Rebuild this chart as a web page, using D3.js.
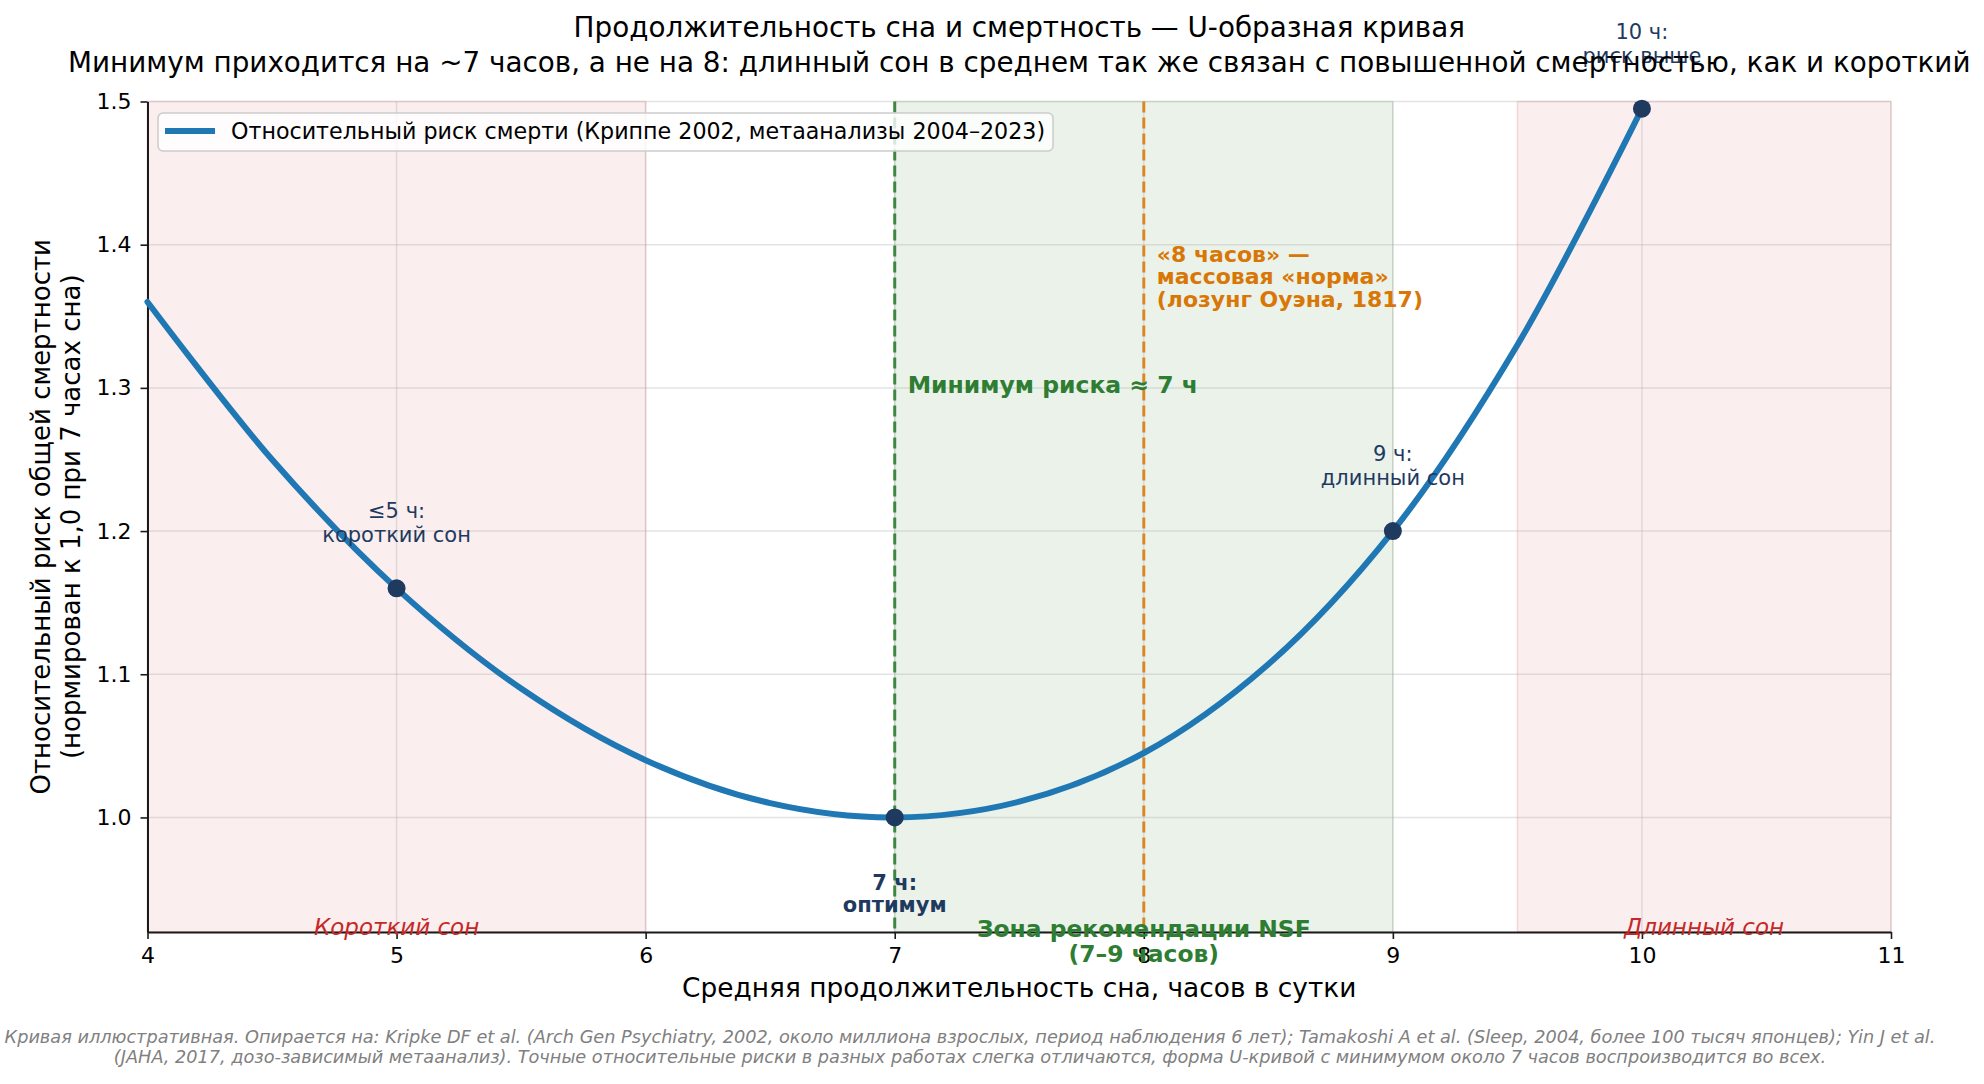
<!DOCTYPE html>
<html>
<head>
<meta charset="utf-8">
<script src="https://cdn.jsdelivr.net/npm/d3@7"></script>
<style>
  body { margin: 0; background: #fff; }
  svg { display: block; font-family: "DejaVu Sans", sans-serif; }
</style>
</head>
<body>
<svg id="chart" width="1984" height="1084"></svg>
<script>
// data
const xTicks = [4, 5, 6, 7, 8, 9, 10, 11];
const yTicks = [1.0, 1.1, 1.2, 1.3, 1.4, 1.5];
const curveHours = [4, 4.5, 5, 5.5, 6, 6.5, 7, 7.5, 8, 8.5, 9, 9.5, 10];
const curveRisk = [1.36, 1.25, 1.16, 1.09, 1.04, 1.01, 1.0, 1.011, 1.045, 1.107, 1.2, 1.33, 1.495];
const keyHours = [5, 7, 9, 10];
const keyRisk = [1.16, 1.0, 1.2, 1.495];
const keyLabels = [["≤5 ч:", "короткий сон"], ["7 ч:", "оптимум"], ["9 ч:", "длинный сон"], ["10 ч:", "риск выше"]];
const shortZone = [4, 6];
const longZone = [9.5, 11];
const nsfZone = [7, 9];
const optimumHour = 7;
const normHour = 8;

const title = "Продолжительность сна и смертность — U-образная кривая";
const subtitle = "Минимум приходится на ~7 часов, а не на 8: длинный сон в среднем так же связан с повышенной смертностью, как и короткий";
const legendText = "Относительный риск смерти (Криппе 2002, метаанализы 2004–2023)";
const footer = [
  "Кривая иллюстративная. Опирается на: Kripke DF et al. (Arch Gen Psychiatry, 2002, около миллиона взрослых, период наблюдения 6 лет); Tamakoshi A et al. (Sleep, 2004, более 100 тысяч японцев); Yin J et al.",
  "(JAHA, 2017, дозо-зависимый метаанализ). Точные относительные риски в разных работах слегка отличаются, форма U-кривой с минимумом около 7 часов воспроизводится во всех."
];

const svg = d3.select("#chart");
const pL = 147.5, pR = 1891, pT = 101.5, pB = 932;

const x = d3.scaleLinear().domain([4, 11]).range([pL, pR]);
const y = d3.scaleLinear().domain([0.92, 1.5]).range([pB, pT]);

const red = "#c62828", green = "#2e7d32", orange = "#d97706", navy = "#1f3a5f", blue = "#1f77b4";

// shaded zones
function zone(z, color, op) {
  svg.append("rect")
    .attr("x", x(z[0])).attr("y", pT)
    .attr("width", x(z[1]) - x(z[0])).attr("height", pB - pT)
    .attr("fill", color).attr("fill-opacity", op)
    .attr("stroke", color).attr("stroke-opacity", 0.15).attr("stroke-width", 1.5);
}
zone(shortZone, red, 0.08);
zone(longZone, red, 0.08);
zone(nsfZone, green, 0.1);

// grid
const grid = svg.append("g").attr("stroke", "#b0b0b0").attr("stroke-opacity", 0.35).attr("stroke-width", 1.5);
grid.selectAll(".gx").data(xTicks).join("line")
  .attr("x1", d => x(d)).attr("x2", d => x(d)).attr("y1", pT).attr("y2", pB);
grid.selectAll(".gy").data(yTicks).join("line")
  .attr("x1", pL).attr("x2", pR).attr("y1", d => y(d)).attr("y2", d => y(d));

// vertical reference lines
svg.append("line")
  .attr("x1", x(optimumHour)).attr("x2", x(optimumHour)).attr("y1", pT).attr("y2", pB)
  .attr("stroke", green).attr("stroke-width", 3).attr("stroke-dasharray", "11,5").attr("stroke-opacity", 0.9);
svg.append("line")
  .attr("x1", x(normHour)).attr("x2", x(normHour)).attr("y1", pT).attr("y2", pB)
  .attr("stroke", orange).attr("stroke-width", 3).attr("stroke-dasharray", "11,5").attr("stroke-opacity", 0.85);

// axes
const xAxis = svg.append("g")
  .attr("transform", `translate(0,${pB})`)
  .call(d3.axisBottom(x).tickValues(xTicks).tickFormat(d3.format("d")).tickSize(7).tickSizeOuter(0).tickPadding(8));
const yAxis = svg.append("g")
  .attr("transform", `translate(${pL},0)`)
  .call(d3.axisLeft(y).tickValues(yTicks).tickFormat(d3.format(".1f")).tickSize(7).tickSizeOuter(0).tickPadding(9));
[xAxis, yAxis].forEach(a => {
  a.select(".domain").attr("stroke", "#1a1a1a").attr("stroke-width", 2);
  a.selectAll(".tick line").attr("stroke", "#1a1a1a").attr("stroke-width", 1.6);
  a.selectAll(".tick text").attr("fill", "#000").style("font-size", "22px").style("font-family", "DejaVu Sans");
});

// curve
const pts = curveHours.map((h, i) => [h, curveRisk[i]]);
svg.append("path")
  .datum(pts)
  .attr("d", d3.line().x(d => x(d[0])).y(d => y(d[1])).curve(d3.curveCatmullRom.alpha(0.5)))
  .attr("fill", "none").attr("stroke", blue).attr("stroke-width", 6).attr("stroke-linecap", "round");

svg.selectAll(".key").data(keyHours).join("circle")
  .attr("cx", d => x(d)).attr("cy", (d, i) => y(keyRisk[i])).attr("r", 9)
  .attr("fill", navy);

// point annotations
keyHours.forEach((h, i) => {
  const px = x(h), py = y(keyRisk[i]);
  const t = svg.append("text").attr("text-anchor", "middle").attr("fill", navy);
  if (h === optimumHour) {
    t.style("font-size", "21px").style("font-weight", "bold");
    t.append("tspan").attr("x", px).attr("y", py + 73).text(keyLabels[i][0]);
    t.append("tspan").attr("x", px).attr("y", py + 95).text(keyLabels[i][1]);
  } else {
    t.style("font-size", "21px");
    t.append("tspan").attr("x", px).attr("y", py - 70).text(keyLabels[i][0]);
    t.append("tspan").attr("x", px).attr("y", py - 46).text(keyLabels[i][1]);
  }
});

// zone labels
svg.append("text").attr("x", x(d3.mean(shortZone))).attr("y", pB + 3)
  .attr("text-anchor", "middle").attr("fill", red)
  .style("font-size", "23px").style("font-style", "italic").text("Короткий сон");
svg.append("text").attr("x", x(d3.mean(longZone))).attr("y", pB + 3)
  .attr("text-anchor", "middle").attr("fill", red)
  .style("font-size", "23px").style("font-style", "italic").text("Длинный сон");
const nsf = svg.append("text").attr("text-anchor", "middle").attr("fill", green)
  .style("font-size", "23.4px").style("font-weight", "bold");
nsf.append("tspan").attr("x", x(d3.mean(nsfZone))).attr("y", pB + 5).text("Зона рекомендации NSF");
nsf.append("tspan").attr("x", x(d3.mean(nsfZone))).attr("y", pB + 30).text("(7–9 часов)");

svg.append("text").attr("x", x(optimumHour) + 13).attr("y", y(1.3) + 5)
  .attr("fill", green).style("font-size", "23.5px").style("font-weight", "bold")
  .text("Минимум риска ≈ 7 ч");

const normLines = ["«8 часов» —", "массовая «норма»", "(лозунг Оуэна, 1817)"];
const norm = svg.append("text").attr("fill", orange).style("font-size", "22px").style("font-weight", "bold");
normLines.forEach((s, i) => {
  norm.append("tspan").attr("x", x(normHour) + 13).attr("y", y(1.4) + 17 + i * 22.8).text(s);
});

// legend
const lg = svg.append("g");
lg.append("rect").attr("x", 158).attr("y", 113).attr("width", 895).attr("height", 38).attr("rx", 5)
  .attr("fill", "#fff").attr("fill-opacity", 0.8).attr("stroke", "#cccccc").attr("stroke-width", 1.5);
lg.append("line").attr("x1", 165).attr("x2", 215).attr("y1", 131).attr("y2", 131)
  .attr("stroke", blue).attr("stroke-width", 6);
lg.append("text").attr("x", 231).attr("y", 139).style("font-size", "22.2px").attr("fill", "#000").text(legendText);

// titles
const cx = (pL + pR) / 2;
svg.append("text").attr("x", cx).attr("y", 37).attr("text-anchor", "middle")
  .style("font-size", "27.8px").attr("fill", "#000").text(title);
svg.append("text").attr("x", cx).attr("y", 72).attr("text-anchor", "middle")
  .style("font-size", "27.8px").attr("fill", "#000").text(subtitle);

// axis labels
svg.append("text").attr("x", cx).attr("y", 997).attr("text-anchor", "middle")
  .style("font-size", "26.4px").attr("fill", "#000").text("Средняя продолжительность сна, часов в сутки");
const yl = svg.append("text").attr("transform", `translate(0,${(pT + pB) / 2}) rotate(-90)`)
  .attr("text-anchor", "middle").style("font-size", "26px").attr("fill", "#000");
yl.append("tspan").attr("x", 0).attr("y", 50).text("Относительный риск общей смертности");
yl.append("tspan").attr("x", 0).attr("y", 80).text("(нормирован к 1,0 при 7 часах сна)");

// footer
footer.forEach((s, i) => {
  svg.append("text").attr("x", 970).attr("y", 1043 + i * 20).attr("text-anchor", "middle")
    .attr("fill", "#808080").style("font-size", "17.7px").style("font-style", "italic").text(s);
});
</script>
</body>
</html>
